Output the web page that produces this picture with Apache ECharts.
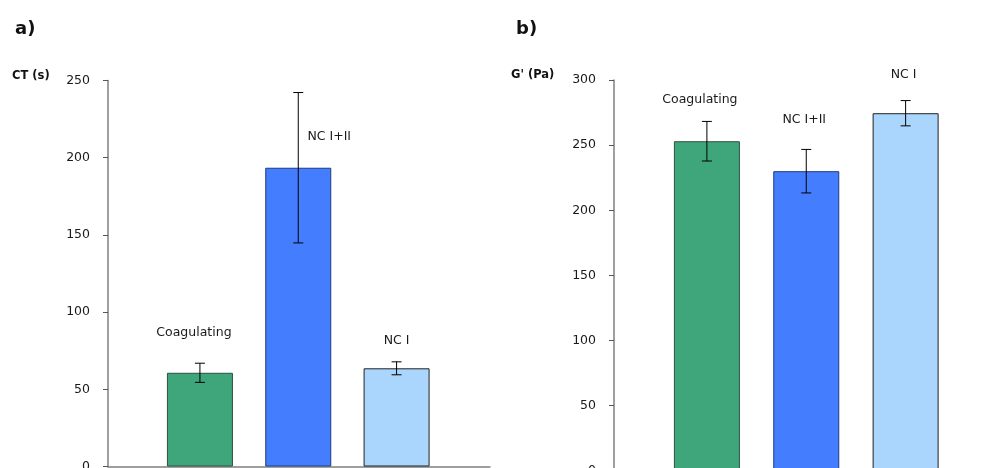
<!DOCTYPE html>
<html>
<head>
<meta charset="utf-8">
<script src="https://cdn.jsdelivr.net/npm/echarts@6/dist/echarts.min.js"></script>
<style>html,body{margin:0;padding:0;background:#fff}#c{width:985px;height:468px}</style>
</head>
<body>
<div id="c"></div>
<script>
const categories = ['Coagulating', 'NC I+II', 'NC I'];
const positions = [1, 2, 3];
const ctValues = [60.7, 193.5, 63.6];
const ctErrors = [6.2, 48.7, 4.2];
const gValues = [253, 230, 274.5];
const gErrors = [15.2, 16.7, 9.7];
const ctTicks = [0, 50, 100, 150, 200, 250];
const gTicks = [0, 50, 100, 150, 200, 250, 300];

const barColors = ['#3ea67a', '#447eff', '#aad5fc'];
const barBorders = ['#2f4f40', '#1d3a80', '#222222'];
const labelOffsetsA = [[-6, -40], [31, -31], [0, -28]];
const labelOffsetsB = [[-7, -41], [-2, -51], [-2, -38]];

const FONT = 'DejaVu Sans';

function barSeries(idx, values) {
  return {
    type: 'bar', xAxisIndex: idx, yAxisIndex: idx, barWidth: 66,
    data: values.map((v, i) => ({
      value: [positions[i], v],
      itemStyle: { color: barColors[i], borderColor: barBorders[i], borderWidth: 1 }
    })),
    silent: true, animation: false
  };
}
function errSeries(idx, values, errs) {
  return {
    type: 'custom', xAxisIndex: idx, yAxisIndex: idx, z: 5, silent: true, animation: false,
    data: values.map((v, i) => [positions[i], v, errs[i]]),
    renderItem: function (params, api) {
      const x = api.value(0), v = api.value(1), e = api.value(2);
      const top = api.coord([x, v + e]);
      const bot = api.coord([x, v - e]);
      const st = { stroke: '#000', lineWidth: 1 };
      return { type: 'group', children: [
        { type: 'line', shape: { x1: top[0], y1: top[1], x2: bot[0], y2: bot[1] }, style: st },
        { type: 'line', shape: { x1: top[0] - 5, y1: top[1], x2: top[0] + 5, y2: top[1] }, style: st },
        { type: 'line', shape: { x1: bot[0] - 5, y1: bot[1], x2: bot[0] + 5, y2: bot[1] }, style: st }
      ]};
    }
  };
}
function labelSeries(idx, values, offsets) {
  return {
    type: 'custom', xAxisIndex: idx, yAxisIndex: idx, z: 6, silent: true, animation: false,
    data: values.map((v, i) => [positions[i], v, i]),
    renderItem: function (params, api) {
      const i = api.value(2);
      const p = api.coord([api.value(0), api.value(1)]);
      return { type: 'text', style: {
        text: categories[i], x: p[0] + offsets[i][0], y: p[1] + offsets[i][1],
        align: 'center', verticalAlign: 'middle',
        font: '12.5px "' + FONT + '"', fill: '#1a1a1a'
      }};
    }
  };
}
function yAxis(idx, ticks) {
  return {
    type: 'value', gridIndex: idx, min: ticks[0], max: ticks[ticks.length - 1],
    interval: ticks[1] - ticks[0],
    axisLine: { show: true, lineStyle: { color: '#7f7f7f', width: 1.5 } },
    axisTick: { show: true, length: 5, lineStyle: { color: '#555' } },
    axisLabel: { color: '#1a1a1a', fontSize: 12.5, fontFamily: FONT, margin: 18, padding: [0, 0, 8, 0] },
    splitLine: { show: false }
  };
}
function xAxis(idx) {
  return {
    type: 'value', gridIndex: idx, min: 0.065, max: 3.95,
    axisLine: { show: true, onZero: false, lineStyle: { color: '#7f7f7f', width: 1.5 } },
    axisTick: { show: false }, axisLabel: { show: false }, splitLine: { show: false }
  };
}

const chart = echarts.init(document.getElementById('c'), null, { renderer: 'canvas' });
chart.setOption({
  animation: false,
  backgroundColor: '#fff',
  title: [
    { text: 'a)', left: 15, top: 20, padding: 0, textStyle: { fontFamily: FONT, fontSize: 18, fontWeight: 'bold', color: '#111' } },
    { text: 'b)', left: 516, top: 20, padding: 0, textStyle: { fontFamily: FONT, fontSize: 18, fontWeight: 'bold', color: '#111' } },
    { text: 'CT (s)', left: 12, top: 70, padding: 0, textStyle: { fontFamily: FONT, fontSize: 11.5, fontWeight: 'bold', color: '#111' } },
    { text: "G' (Pa)", left: 511, top: 69, padding: 0, textStyle: { fontFamily: FONT, fontSize: 11.5, fontWeight: 'bold', color: '#111' } }
  ],
  grid: [
    { left: 108, top: 80.5, width: 382, height: 386, outerBoundsMode: 'none', containLabel: false },
    { left: 614, top: 80, width: 386, height: 390.8, outerBoundsMode: 'none', containLabel: false }
  ],
  xAxis: [xAxis(0), xAxis(1)],
  yAxis: [yAxis(0, ctTicks), yAxis(1, gTicks)],
  series: [
    barSeries(0, ctValues), errSeries(0, ctValues, ctErrors), labelSeries(0, ctValues, labelOffsetsA),
    barSeries(1, gValues), errSeries(1, gValues, gErrors), labelSeries(1, gValues, labelOffsetsB)
  ]
});
</script>
</body>
</html>
